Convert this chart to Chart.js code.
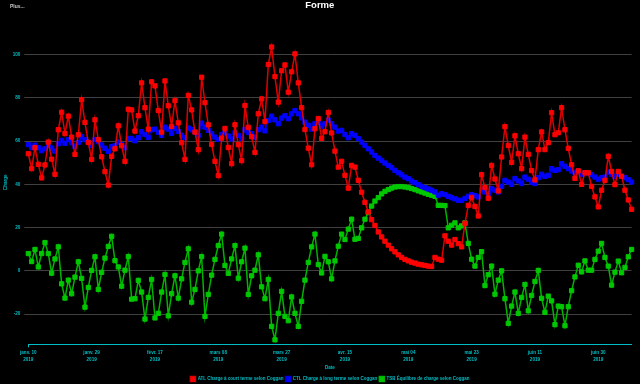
<!DOCTYPE html>
<html><head><meta charset="utf-8">
<script src="https://cdn.jsdelivr.net/npm/chart.js@4.4.1/dist/chart.umd.min.js"></script>
<style>html,body{margin:0;padding:0;background:#000;}#wrap{width:640px;height:384px;}</style>
</head><body><div id="wrap"><canvas id="c" width="640" height="384"></canvas></div>
<script>
const startYear = 2019, startMonth = 0, startDay = 10;
const dayCount = 182;
const tickEvery = 19;
const tickLabels = [['janv. 10','2019'],['janv. 29','2019'],['févr. 17','2019'],['mars 08','2019'],['mars 27','2019'],['avr. 15','2019'],['mai 04','2019'],['mai 23','2019'],['juin 11','2019'],['juin 30','2019']];
const seriesNames = ['ATL Charge à court terme selon Coggan','CTL Charge à long terme selon Coggan','TSB Équilibre de charge selon Coggan'];

const atl = [54.2,47.3,57.0,49.3,43.0,49.0,59.6,51.7,44.7,65.3,73.4,63.5,71.6,61.9,53.9,63.0,79.2,68.7,59.4,51.6,
69.9,60.7,52.8,45.9,39.7,53.0,56.5,67.1,57.9,50.7,74.8,74.5,64.7,71.8,87.0,75.5,65.6,87.5,85.6,74.2,
64.2,87.9,76.4,66.8,78.8,68.5,59.3,51.6,81.2,74.5,64.2,56.1,89.6,77.8,67.6,58.5,50.7,44.1,61.4,65.9,
57.1,49.6,67.6,58.4,51.0,76.5,66.4,62.1,54.8,72.7,79.6,69.1,95.5,103.6,89.9,78.1,92.6,95.3,82.7,92.1,
100.4,87.0,75.5,65.4,56.8,49.1,65.8,70.5,61.3,64.4,73.3,63.8,55.4,48.0,50.7,44.2,38.3,48.8,48.0,41.9,
36.4,31.7,27.3,23.7,21.0,18.0,15.7,13.7,11.9,10.2,8.8,7.4,6.2,5.3,4.6,4.0,3.6,3.1,2.8,2.5,
2.2,2.0,6.2,5.4,4.9,16.2,13.7,11.9,14.5,12.6,11.1,22.0,30.3,34.0,29.8,25.4,44.5,38.5,33.6,48.8,
42.5,37.0,52.7,66.7,58.0,50.2,62.5,54.2,47.3,61.9,53.9,46.4,42.1,56.1,64.3,56.1,59.3,73.2,63.0,63.9,
75.5,65.3,56.7,49.1,42.8,46.3,40.0,45.4,45.4,39.1,34.2,29.6,37.3,41.9,53.0,46.0,39.9,46.0,43.8,37.3,
32.8,28.5];

const ctl = [58.4,57.0,58.2,57.0,55.6,56.5,58.4,56.8,55.4,58.8,60.4,59.0,60.7,59.3,57.6,59.4,62.1,60.7,59.6,58.1,
60.8,59.8,58.2,56.7,55.3,57.5,57.9,59.6,58.4,57.0,61.2,61.3,60.2,61.6,64.4,63.1,61.8,65.3,65.6,64.1,
62.7,66.5,65.6,63.6,65.9,64.5,62.7,61.6,66.1,65.3,64.2,62.7,68.4,66.5,65.0,63.5,61.9,60.8,63.1,63.9,
62.4,61.0,63.9,62.7,61.2,65.4,64.0,63.5,61.9,65.3,66.5,64.8,69.6,71.6,69.9,68.1,70.7,71.8,70.4,72.7,
74.2,72.7,70.8,68.8,67.4,65.6,68.1,68.7,67.0,68.1,69.8,68.1,66.5,64.7,65.0,63.1,61.6,63.5,62.7,61.2,
59.6,58.1,56.5,55.0,53.4,52.2,51.1,49.9,48.8,47.8,46.5,45.4,44.5,43.4,42.7,41.6,40.8,39.9,39.1,38.5,
37.9,37.3,36.5,35.0,35.7,35.3,34.5,33.9,33.3,32.7,32.6,33.5,34.5,35.3,34.8,34.2,37.6,36.5,35.7,38.1,
37.3,36.5,39.1,41.9,41.1,40.0,42.7,41.6,40.4,43.4,42.4,41.1,40.4,43.1,44.7,43.7,44.2,47.3,46.5,46.8,
49.6,48.4,47.3,46.2,45.3,46.2,44.7,45.3,45.3,44.5,43.4,42.4,43.1,43.4,45.7,44.7,43.7,44.7,43.7,43.1,
42.2,41.1];

const tsb = [8.0,4.3,9.9,1.8,8.0,13.1,8.0,-1.1,5.5,11.1,-6.0,-12.6,-4.3,-10.6,-2.9,4.2,-3.5,-16.8,-7.7,0.2,
6.5,-8.6,-0.7,5.9,11.3,16.0,4.7,1.8,-7.1,0.3,6.6,-13.1,-12.9,-4.4,-9.8,-22.3,-12.3,-4.0,-21.8,-19.7,
-9.8,-1.7,-20.8,-10.6,-2.3,-12.6,-3.7,3.9,10.2,-14.5,-8.6,0.0,6.6,-21.1,-10.9,-2.0,5.3,11.7,17.0,2.5,
-1.2,5.5,11.7,-3.4,4.2,10.5,-10.9,-2.3,0.3,7.4,-7.4,-12.9,-4.0,-25.7,-31.9,-19.7,-9.5,-21.1,-23.1,-12.1,
-19.7,-25.7,-14.1,-4.3,3.9,11.1,17.0,2.9,-1.0,6.7,4.2,-3.7,4.6,11.4,17.0,14.5,19.3,23.9,14.6,15.0,
19.9,23.9,27.0,30.0,32.3,33.9,35.6,36.8,37.6,38.3,38.8,39.0,39.0,38.8,38.5,38.1,37.6,37.0,36.5,36.0,
35.4,35.0,34.5,30.3,30.3,30.2,19.9,21.1,22.2,19.9,20.8,22.2,12.7,5.4,2.2,6.2,8.9,-6.8,-1.8,2.2,
-10.8,-4.3,0.0,-12.9,-24.3,-16.3,-9.8,-19.7,-12.3,-6.3,-18.5,-11.4,-4.9,0.2,-12.7,-19.2,-11.7,-13.9,-24.9,-16.3,
-16.6,-25.4,-16.6,-9.2,-2.8,2.6,-0.5,4.6,0.3,0.3,5.3,9.1,12.7,6.2,2.2,-6.6,-0.6,4.5,-0.9,1.6,
6.5,9.9];

const categories = [];
for (let i = 0; i < dayCount; i++) {
  const d = new Date(Date.UTC(startYear, startMonth, startDay + i));
  categories.push(d.toISOString().slice(0, 10));
}

const CYAN = '#00bcc4';
const FONT = "'Liberation Sans Narrow', 'Liberation Sans', Arial, sans-serif";
Chart.defaults.font.family = FONT;
Chart.defaults.font.weight = 'bold';
Chart.defaults.font.size = 4.6;

function ds(label, data, line, fill) {
  return {label, data, borderColor: line, backgroundColor: fill,
    pointBackgroundColor: fill, pointBorderColor: fill, pointStyle: 'rect',
    pointRadius: 3, pointBorderWidth: 1, borderWidth: 1.5, tension: 0};
}

const extras = {
  id: 'extras',
  afterLayout(chart) {
    const lg = chart.legend;
    lg.left += 14.2; lg.right += 14.2;
    const t = chart.titleBlock;
    t.left += 4; t.right += 4;
  },
  afterDraw(chart) {
    const ctx = chart.ctx;
    ctx.save();
    ctx.fillStyle = '#c8c8c8';
    ctx.font = "bold 5px " + FONT;
    ctx.textBaseline = 'middle';
    ctx.fillText('Plus...', 10, 7);
    ctx.restore();
  }
};

new Chart(document.getElementById('c'), {
  type: 'line',
  data: {
    labels: categories,
    datasets: [
      ds(seriesNames[0], atl, '#e00000', '#ff0000'),
      ds(seriesNames[1], ctl, '#0000e6', '#0000ff'),
      ds(seriesNames[2], tsb, '#00b400', '#00c800')
    ]
  },
  options: {
    responsive: false,
    animation: false,
    devicePixelRatio: 1,
    layout: {padding: {left: 0, right: 8.4, top: 0, bottom: -7.5}},
    plugins: {
      title: {display: true, text: 'Forme', color: '#ffffff',
        font: {size: 9.5, weight: 'bold'}, padding: {top: 0, bottom: 8.8}},
      legend: {position: 'bottom',
        labels: {color: CYAN, boxWidth: 5, boxHeight: 5, padding: 2, font: {size: 4.5}}},
      tooltip: {enabled: false}
    },
    scales: {
      x: {
        type: 'category', offset: false,
        border: {display: true, color: CYAN, width: 1},
        grid: {drawOnChartArea: false, drawTicks: true, tickLength: 3,
          color: (c) => (c.index % tickEvery === 0 ? CYAN : 'rgba(0,0,0,0)')},
        ticks: {autoSkip: false, maxRotation: 0, minRotation: 0, padding: 2, color: CYAN,
          font: {size: 4.6, lineHeight: 1.52},
          callback: (v, i) => (i % tickEvery === 0 ? tickLabels[i / tickEvery] : null)},
        title: {display: true, text: 'Date', color: CYAN, font: {size: 4.6},
          padding: {top: 0, bottom: 4}},
        afterFit: (s) => { s.height = 30.2; }
      },
      y: {
        min: -34, max: 116,
        border: {display: false},
        grid: {color: '#404040', lineWidth: 1, tickLength: 4, drawTicks: true},
        ticks: {stepSize: 20, includeBounds: false, color: CYAN, padding: 4, font: {size: 4.6}},
        title: {display: true, text: 'Charge', color: CYAN, font: {size: 4.6},
          padding: {top: 2.7, bottom: 0}},
        afterFit: (s) => { s.width = 28.3; }
      }
    }
  },
  plugins: [extras]
});
</script>
</body></html>
